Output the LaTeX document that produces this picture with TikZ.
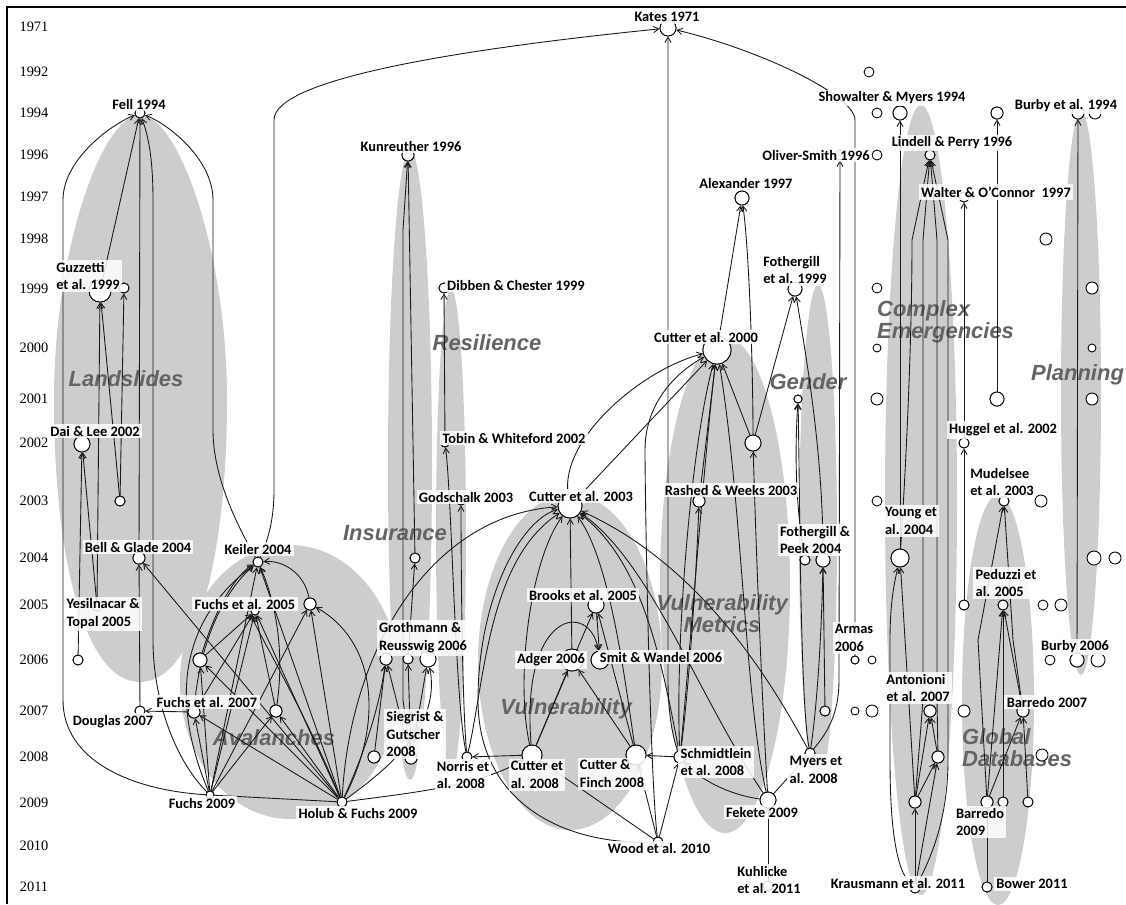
\documentclass[tikz,border=0pt]{standalone}
\usepackage{fontspec}
\setmainfont{Carlito}
\newfontfamily\yearfont{Liberation Serif}
\newfontfamily\clusterfont{Liberation Sans}
\usetikzlibrary{arrows.meta}
\definecolor{clgray}{RGB}{205,205,205}
\definecolor{cltext}{RGB}{100,100,100}
\tikzset{
  nd/.style={circle,draw=black,fill=white,line width=0.5pt,inner sep=0pt,minimum size=#1*0.04cm},
  lab/.style={fill=white,fill opacity=0.85,text opacity=1,inner sep=1.3pt,font=\bfseries\fontsize{8.2}{10.2}\selectfont,align=left},
  yr/.style={font=\yearfont\fontsize{8.2}{9}\selectfont},
  cl/.style={font=\clusterfont\bfseries\itshape\fontsize{12.5}{12.6}\selectfont,text=cltext,align=left},
  e/.style={draw=black!90,line width=0.5pt,-{Straight Barb[length=3pt,width=3.5pt]}},
  pl/.style={draw=black!90,line width=0.5pt},
}
\begin{document}
\begin{tikzpicture}[x=0.02cm,y=-0.02cm]
\useasboundingbox (0,0) rectangle (1126,904);
% ---------- clusters ----------
\fill[clgray] (140,115) .. controls (178,115) and (227,250) .. (227,400) .. controls (227,560) and (195,682) .. (140,682) .. controls (85,682) and (54,560) .. (54,400) .. controls (54,250) and (102,115) .. (140,115) -- cycle;
\fill[clgray] (290,682) ellipse [x radius=110, y radius=137];
\fill[clgray] (410,465) ellipse [x radius=22, y radius=315];
\fill[clgray] (451,532) ellipse [x radius=15, y radius=243];
\fill[clgray] (570,662) ellipse [x radius=92, y radius=168];
\fill[clgray] (725,585) ellipse [x radius=65, y radius=248];
\fill[clgray] (818,535) ellipse [x radius=19, y radius=250];
\fill[clgray] (921,500) ellipse [x radius=36, y radius=395];
\fill[clgray] (998,700) ellipse [x radius=36, y radius=205];
\fill[clgray] (1081,393) ellipse [x radius=20, y radius=282];
% ---------- cluster labels ----------
\node[cl] (cl-land) at (126,379) {Landslides};
\node[cl] (cl-res) at (487,343) {Resilience};
\node[cl] (cl-ins) at (395,533) {Insurance};
\node[cl] (cl-ava) at (274,738) {Avalanches};
\node[cl] (cl-vul) at (566,709) {Vulnerability};
\node[cl,align=center] (cl-vm) at (722,614) {Vulnerability\\Metrics};
\node[cl] (cl-gen) at (808,382) {Gender};
\node[cl,anchor=west] (cl-ce) at (871,322) {Complex\\Emergencies};
\node[cl,anchor=west] (cl-gd) at (956,748) {Global\\Databases};
\node[cl,anchor=east,inner xsep=1pt] (cl-pl) at (1126,375) {Planning};
% ---------- frame ----------
\draw[line width=0.9pt] (7,904) -- (7,7) -- (1126,7);
% ---------- years ----------
\foreach \yy/\py in {1971/27,1992/72,1994/113,1996/155,1997/197,1998/239,1999/289,2000/348,2001/399,2002/443,2003/501,2004/558,2005/605,2006/660,2007/711,2008/757,2009/803,2010/846,2011/887}
  \node[yr] (yr\yy) at (34,\py) {\yy};
% ---------- nodes ----------
\node[nd=8] (kates) at (668,28) {};
\node[nd=5] (fell) at (140,113) {};
\node[nd=6] (kun) at (408,155) {};
\node[nd=5] (dib) at (444,288) {};
\node[nd=11] (guz) at (100,291) {};
\node[nd=5] (g2) at (124,288) {};
\node[nd=8] (dai) at (82,444) {};
\node[nd=5] (s03) at (120,501) {};
\node[nd=6] (bell) at (139,558) {};
\node[nd=5] (keil) at (258,562) {};
\node[nd=5] (yes) at (97,606) {};
\node[nd=5] (y06) at (78,660) {};
\node[nd=6] (f05) at (310,604) {};
\node[nd=4] (f05b) at (255,611) {};
\node[nd=7] (a660) at (200,660) {};
\node[nd=6] (f07) at (194,712) {};
\node[nd=6] (a711) at (276,711) {};
\node[nd=5] (doug) at (140,711) {};
\node[nd=4] (f09) at (210,795) {};
\node[nd=5] (hf) at (342,802) {};
\node[nd=6] (gr1) at (386,659) {};
\node[nd=5] (gr2) at (408,659) {};
\node[nd=8] (gr3) at (428,659) {};
\node[nd=6] (sg1) at (374,757) {};
\node[nd=6] (sg2) at (411,758) {};
\node[nd=5] (i558) at (415,558) {};
\node[nd=5] (nor) at (467,757) {};
\node[nd=4] (tob) at (445,443) {};
\node[nd=4] (god) at (461,501) {};
\node[nd=12] (c03) at (570,506) {};
\node[nd=8] (brk) at (596,605) {};
\node[nd=11] (adg) at (572,660) {};
\node[nd=9] (smit) at (600,660) {};
\node[nd=10] (c08) at (532,755) {};
\node[nd=10] (cf08) at (636,755) {};
\node[nd=6] (sch) at (680,757) {};
\node[nd=5] (wood) at (658,842) {};
\node[nd=8] (fek) at (768,800) {};
\node[nd=5] (kuh) at (768,886) {};
\node[nd=5] (myers) at (810,753) {};
\node[nd=14] (c00) at (717,350) {};
\node[nd=7] (alex) at (742,198) {};
\node[nd=7] (foth) at (795,289) {};
\node[nd=8] (v443) at (753,443) {};
\node[nd=6] (rash) at (699,501) {};
\node[nd=4] (g398) at (798,399) {};
\node[nd=5] (fp1) at (805,560) {};
\node[nd=7] (fp2) at (823,560) {};
\node[nd=5] (g711) at (825,711) {};
\node[nd=5] (oliv) at (840,155) {};
\node[nd=4] (arm) at (855,660) {};
\node[nd=5] (c72) at (869,72) {};
\node[nd=5] (c113a) at (877,113) {};
\node[nd=7] (c113b) at (900,113) {};
\node[nd=6] (c113c) at (997,113) {};
\node[nd=6] (burb94) at (1078,113) {};
\node[nd=6] (c113d) at (1095,113) {};
\node[nd=5] (c155) at (877,155) {};
\node[nd=5] (lind) at (930,155) {};
\node[nd=5] (walt) at (964,197) {};
\node[nd=6] (c239) at (1046,239) {};
\node[nd=5] (c288a) at (877,288) {};
\node[nd=6] (c288b) at (1092,288) {};
\node[nd=4] (c348a) at (877,348) {};
\node[nd=4] (c348b) at (1092,348) {};
\node[nd=6] (c399a) at (877,399) {};
\node[nd=7] (c399b) at (997,399) {};
\node[nd=6] (c399c) at (1092,399) {};
\node[nd=5] (hug) at (964,443) {};
\node[nd=5] (c501a) at (877,501) {};
\node[nd=5] (mud) at (1004,501) {};
\node[nd=6] (c501b) at (1041,501) {};
\node[nd=9] (young) at (900,558) {};
\node[nd=7] (c558a) at (1094,558) {};
\node[nd=6] (c558b) at (1115,558) {};
\node[nd=5] (c605a) at (964,605) {};
\node[nd=5] (ped) at (1003,605) {};
\node[nd=5] (c605b) at (1043,605) {};
\node[nd=6] (c605c) at (1061,605) {};
\node[nd=4] (c660b) at (872,660) {};
\node[nd=5] (c660c) at (1050,660) {};
\node[nd=7] (burb06) at (1077,660) {};
\node[nd=7] (c660d) at (1098,660) {};
\node[nd=4] (c711a) at (855,711) {};
\node[nd=6] (c711b) at (872,711) {};
\node[nd=6] (anto) at (930,711) {};
\node[nd=6] (c711c) at (964,711) {};
\node[nd=6] (bar07) at (1023,711) {};
\node[nd=6] (c757a) at (938,757) {};
\node[nd=6] (c757b) at (1042,755) {};
\node[nd=6] (c802a) at (915,802) {};
\node[nd=6] (bar09) at (987,802) {};
\node[nd=5] (c802b) at (1003,802) {};
\node[nd=5] (c802c) at (1028,802) {};
\node[nd=5] (kraus) at (915,888) {};
\node[nd=5] (bower) at (987,887) {};
% ---------- edges ----------
% Landslides
\draw[e] (guz) -- (fell);
\draw[e] (bell) -- (fell);
\draw[e] (f09) .. controls (175,760) and (153,700) .. (153,640) -- (153,200) .. controls (153,150) and (146,130) .. (fell);
\draw[e] (f09) .. controls (130,790) and (63,760) .. (63,700) -- (63,200) .. controls (63,160) and (110,125) .. (fell);
\draw[e] (keil) .. controls (240,530) and (213,480) .. (213,430) -- (213,200) .. controls (213,160) and (170,125) .. (fell);
\draw[e] (keil) .. controls (268,540) and (274,520) .. (274,490) -- (274,120) .. controls (274,80) and (450,50) .. (kates);
\draw[e] (arm) -- (855,120) .. controls (855,95) and (760,50) .. (kates);
\draw[e] (s03) -- (guz);
\draw[e] (s03) -- (g2);
\draw[e] (yes) -- (guz);
\draw[e] (yes) -- (dai);
\draw[e] (y06) -- (dai);
\draw[e] (doug) -- (bell);
\draw[e] (f07) -- (doug);
% Avalanches
\foreach \s in {f09,hf}{
  \foreach \t in {keil,f05,f05b,a660,f07,a711}{
    \draw[e] (\s) -- (\t);
  }
}
\draw[e] (hf) -- (bell);
\draw[e] (a660) .. controls (215,610) and (235,575) .. (keil);
\draw[e] (a660) -- (f05b);
\draw[e] (a711) .. controls (285,650) and (275,600) .. (keil);
\draw[e] (a711) -- (f05b);
\draw[e] (f07) .. controls (200,640) and (225,590) .. (keil);
\draw[e] (f07) -- (f05b);
\draw[e] (f05) .. controls (305,575) and (285,560) .. (keil);
\draw[e] (hf) .. controls (385,720) and (375,640) .. (f05);
\draw[e] (f09) .. controls (170,700) and (180,620) .. (keil);
\draw[e] (hf) .. controls (300,700) and (250,620) .. (f05b);
\draw[pl] (f09) -- (hf);
% Insurance / Resilience
\draw[e] (i558) -- (kun);
\draw[e] (sg2) -- (403,700) -- (403,230) -- (kun);
\draw[e] (gr2) -- (i558);
\draw[e] (sg1) -- (gr1);
\draw[e] (sg2) -- (gr1);
\draw[e] (sg2) -- (gr2);
\draw[e] (sg2) -- (gr3);
\draw[e] (hf) .. controls (370,740) and (380,700) .. (gr1);
\draw[e] (hf) .. controls (400,760) and (440,720) .. (gr3);
\draw[e] (nor) .. controls (455,700) and (452,500) .. (tob);
\draw[e] (nor) .. controls (462,700) and (461,560) .. (god);
\draw[e] (tob) -- (dib);
\draw[e] (nor) .. controls (485,680) and (488,560) .. (c03);
\draw[e] (hf) .. controls (350,650) and (430,515) .. (c03);
\draw[e] (c08) -- (nor);
\draw[e] (hf) .. controls (420,792) and (480,785) .. (c08);
% Vulnerability
\draw[e] (adg) -- (c03);
\draw[e] (c08) .. controls (515,680) and (530,560) .. (c03);
\draw[e] (c08) -- (adg);
\draw[e] (c08) -- (brk);
\draw[e] (cf08) .. controls (625,680) and (610,560) .. (c03);
\draw[e] (cf08) -- (adg);
\draw[e] (cf08) -- (brk);
\draw[e] (c08) .. controls (520,610) and (590,600) .. (smit);
\draw[e] (brk) -- (smit);
\draw[e] (wood) -- (c08);
\draw[e] (wood) -- (cf08);
\draw[e] (wood) -- (sch);
\draw[e] (wood) .. controls (560,845) and (478,800) .. (478,700) .. controls (478,600) and (520,520) .. (c03);
\draw[e] (sch) -- (cf08);
\draw[e] (sch) .. controls (660,650) and (640,560) .. (c03);
\draw[e] (fek) .. controls (700,700) and (650,560) .. (c03);
\draw[e] (myers) .. controls (760,660) and (690,560) .. (c03);
% Vulnerability metrics
\draw[e] (c03) -- (c00);
\draw[e] (c03) .. controls (560,440) and (640,370) .. (c00);
\draw[e] (rash) -- (c00);
\draw[e] (v443) -- (c00);
\draw[e] (sch) .. controls (675,650) and (690,450) .. (c00);
\draw[e] (sch) .. controls (690,650) and (705,450) .. (c00);
\draw[e] (sch) .. controls (690,680) and (697,560) .. (rash);
\draw[e] (wood) .. controls (650,780) and (645,500) .. (645,450) .. controls (645,400) and (680,370) .. (c00);
\draw[e] (fek) .. controls (745,700) and (742,500) .. (c00);
\draw[e] (fek) .. controls (762,700) and (756,550) .. (v443);
\draw[e] (sch) .. controls (670,730) and (668,700) .. (668,680) -- (kates);
\draw[e] (c00) -- (alex);
\draw[e] (v443) .. controls (753,380) and (750,260) .. (alex);
\draw[e] (v443) -- (foth);
\draw[e] (fp2) .. controls (823,450) and (805,350) .. (foth);
\draw[e] (fp1) .. controls (795,500) and (795,450) .. (g398);
\draw[e] (myers) .. controls (800,700) and (800,500) .. (g398);
\draw[e] (g711) -- (fp2);
\draw[e] (myers) .. controls (818,700) and (822,620) .. (fp2);
\draw[e] (myers) .. controls (830,730) and (839,710) .. (839,680) -- (oliv);
\draw[e] (fek) -- (myers);
\draw[e] (fek) .. controls (730,795) and (700,780) .. (sch);
\draw[e] (kuh) -- (fek);
% Complex emergencies
\draw[e] (young) -- (c113b);
\draw[e] (young) .. controls (905,480) and (912,350) .. (912,240) -- (lind);
\draw[e] (c802a) -- (923,700) -- (923,240) -- (lind);
\draw[e] (c757a) -- (937,700) -- (937,240) -- (lind);
\draw[e] (kraus) .. controls (930,860) and (948,820) .. (948,760) -- (948,240) -- (lind);
\draw[e] (kraus) .. controls (895,870) and (890,820) .. (890,760) -- (890,640) .. controls (890,600) and (895,580) .. (young);
\draw[e] (c802a) -- (young);
\draw[e] (kraus) -- (c802a);
\draw[e] (kraus) -- (c757a);
\draw[e] (c802a) -- (anto);
\draw[e] (c757a) -- (anto);
\draw[e] (c802a) -- (c757a);
\draw[e] (hug) -- (walt);
\draw[e] (c605a) -- (hug);
\draw[e] (c399b) -- (c113c);
% Global databases
\draw[e] (bar09) -- (978,640) -- (mud);
\draw[e] (bar07) -- (1013,640) -- (mud);
\draw[e] (bar09) -- (ped);
\draw[e] (c802b) -- (ped);
\draw[e] (bar07) -- (ped);
\draw[e] (bar09) -- (bar07);
\draw[e] (c802c) -- (bar07);
\draw[e] (bower) -- (bar09);
% Planning
\draw[e] (burb06) -- (burb94);
% redraw circles on top of edges
\foreach \n/\r in {kates/8,fell/5,kun/6,dib/5,guz/11,g2/5,dai/8,s03/5,bell/6,keil/5,yes/5,y06/5,f05/6,f05b/4,a660/7,f07/6,a711/6,doug/5,f09/4,hf/5,gr1/6,gr2/5,gr3/8,sg1/6,sg2/6,i558/5,nor/5,tob/4,god/4,c03/12,brk/8,adg/11,smit/9,c08/10,cf08/10,sch/6,wood/5,fek/8,kuh/5,myers/5,c00/14,alex/7,foth/7,v443/8,rash/6,g398/4,fp1/5,fp2/7,g711/5,oliv/5,arm/4,young/9,lind/5,walt/5,hug/5,mud/5,ped/5,bar07/6,bar09/6,anto/6,c757a/6,c802a/6,c802b/5,c802c/5,kraus/5,bower/5,c113b/7,c113c/6,burb94/6,c399b/7,c605a/5,burb06/7}
  \fill[white,draw=black,line width=0.5pt] (\n.center) circle [radius=\r];
% ---------- labels ----------
\node[lab] (l-kates) at (667,17) {Kates 1971};
\node[lab] (l-fell) at (139,104) {Fell 1994};
\node[lab] (l-kun) at (411,146) {Kunreuther 1996};
\node[lab] (l-dib) at (516,285) {Dibben \& Chester 1999};
\node[lab] (l-guz) at (88,276) {Guzzetti\\et al. 1999};
\node[lab] (l-dai) at (95,431) {Dai \& Lee 2002};
\node[lab] (l-bell) at (138,547) {Bell \& Glade 2004};
\node[lab] (l-keil) at (258,549) {Keiler 2004};
\node[lab] (l-yes) at (103,614) {Yesilnacar \&\\Topal 2005};
\node[lab] (l-f05) at (245,604) {Fuchs et al. 2005};
\node[lab] (l-f07) at (207,702) {Fuchs et al. 2007};
\node[lab] (l-doug) at (113,722) {Douglas 2007};
\node[lab] (l-f09) at (202,803) {Fuchs 2009};
\node[lab] (l-hf) at (358,813) {Holub \& Fuchs 2009};
\node[lab] (l-gr) at (423,638) {Grothmann \&\\Reusswig 2006};
\node[lab] (l-sg) at (415,734) {Siegrist \&\\Gutscher\\2008};
\node[lab] (l-nor) at (463,775) {Norris et\\al. 2008};
\node[lab] (l-c08) at (537,775) {Cutter et\\al. 2008};
\node[lab] (l-tob) at (514,438) {Tobin \& Whiteford 2002};
\node[lab] (l-god) at (466,497) {Godschalk 2003};
\node[lab] (l-c03) at (581,496) {Cutter et al. 2003};
\node[lab] (l-brk) at (583,595) {Brooks et al. 2005};
\node[lab] (l-adg) at (551,660) {Adger 2006};
\node[lab] (l-smit) at (661,657) {Smit \& Wandel 2006};
\node[lab] (l-cf08) at (612,774) {Cutter \&\\Finch 2008};
\node[lab] (l-sch) at (716,762) {Schmidtlein\\et al. 2008};
\node[lab] (l-wood) at (659,848) {Wood et al. 2010};
\node[lab] (l-fek) at (762,812) {Fekete 2009};
\node[lab] (l-kuh) at (769,880) {Kuhlicke\\et al. 2011};
\node[lab] (l-myers) at (816,770) {Myers et\\al. 2008};
\node[lab] (l-arm) at (854,638) {Armas\\2006};
\node[lab] (l-c00) at (706,337) {Cutter et al. 2000};
\node[lab] (l-alex) at (746,183) {Alexander 1997};
\node[lab] (l-foth) at (795,270) {Fothergill\\et al. 1999};
\node[lab] (l-rash) at (731,490) {Rashed \& Weeks 2003};
\node[lab] (l-fp) at (815,540) {Fothergill \&\\Peek 2004};
\node[lab] (l-oliv) at (816,155) {Oliver-Smith 1996};
\node[lab] (l-show) at (892,98) {Showalter \& Myers 1994};
\node[lab] (l-lind) at (952,143) {Lindell \& Perry 1996};
\node[lab] (l-walt) at (996,192) {Walter \& O’Connor\ \ 1997};
\node[lab] (l-burb94) at (1066,106) {Burby et al. 1994};
\node[lab] (l-hug) at (1003,430) {Huggel et al. 2002};
\node[lab] (l-mud) at (1002,482) {Mudelsee\\et al. 2003};
\node[lab] (l-young) at (911,521) {Young et\\al. 2004};
\node[lab] (l-ped) at (1006,583) {Peduzzi et\\al. 2005};
\node[lab] (l-anto) at (918,688) {Antonioni\\et al. 2007};
\node[lab] (l-bar07) at (1047,702) {Barredo 2007};
\node[lab] (l-bar09) at (980,822) {Barredo\\2009};
\node[lab] (l-kraus) at (898,883) {Krausmann et al. 2011};
\node[lab] (l-bower) at (1032,884) {Bower 2011};
\node[lab] (l-burb06) at (1075,647) {Burby 2006};
\end{tikzpicture}
\end{document}
